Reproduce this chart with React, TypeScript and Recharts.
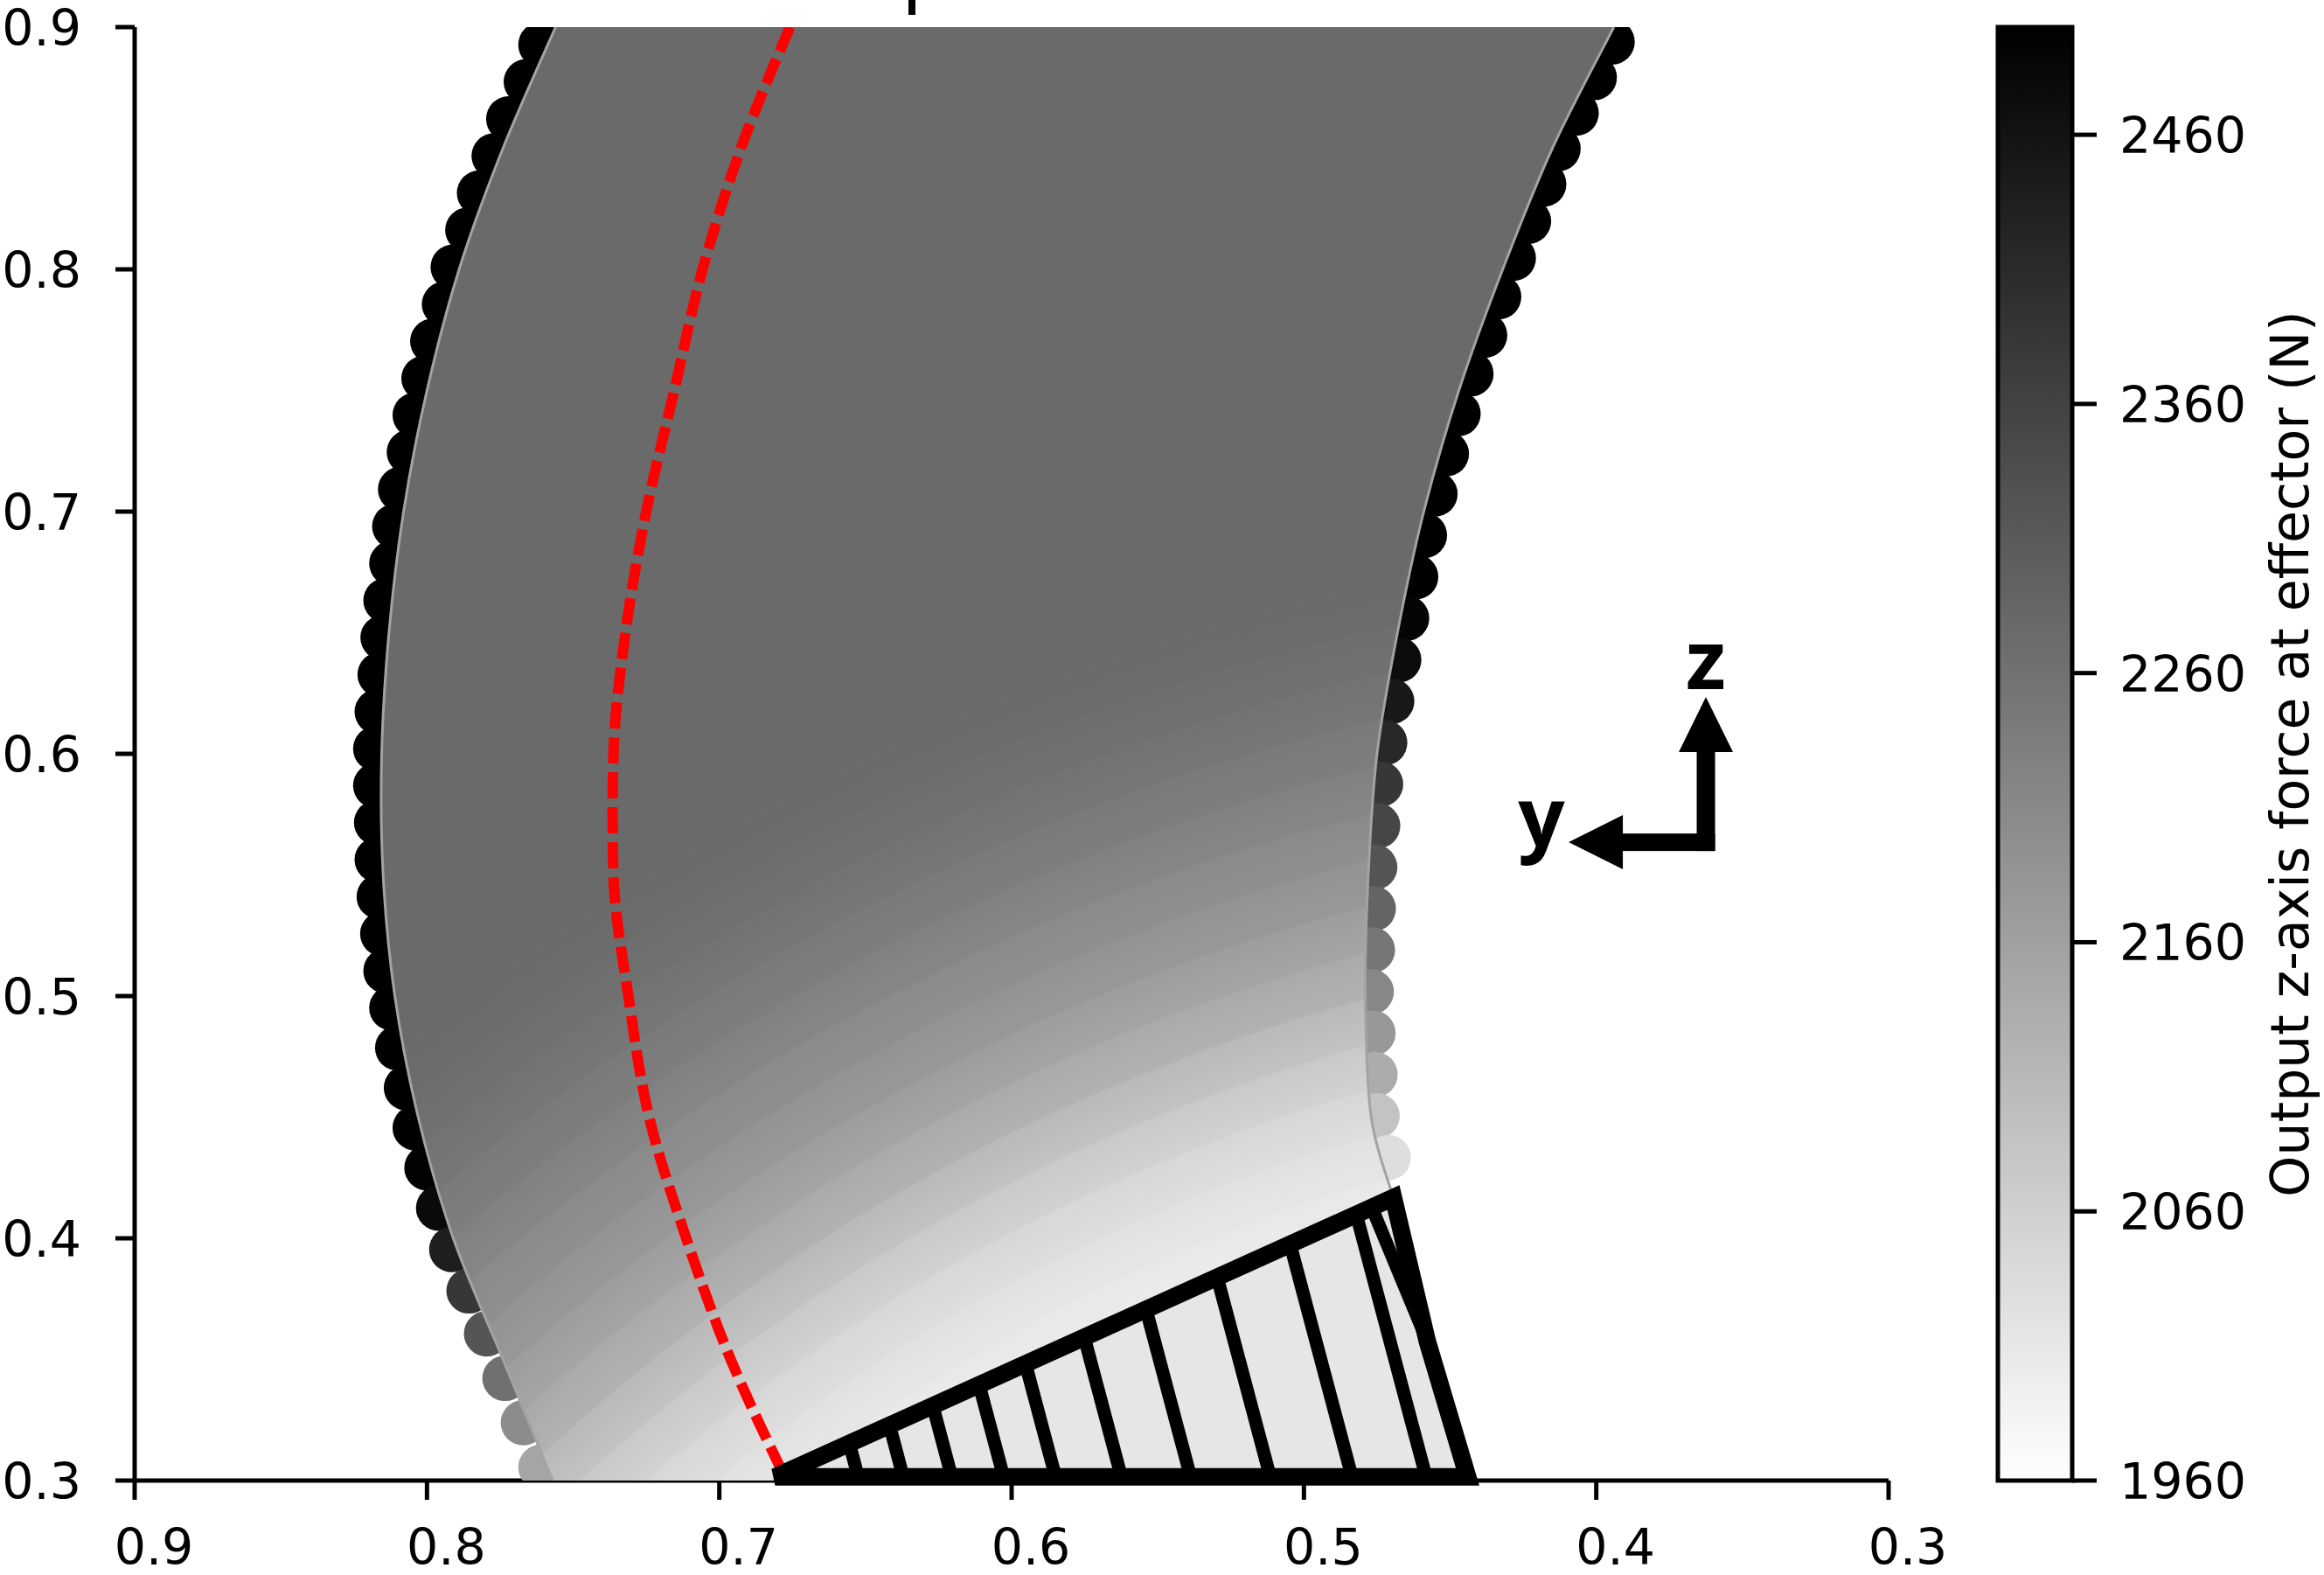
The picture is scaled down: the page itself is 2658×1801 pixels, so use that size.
import React from 'react';
import { ComposedChart, Scatter, XAxis, YAxis, ReferenceArea, ReferenceDot } from 'recharts';

const FONT = 'DejaVu Sans';
const F_MIN = 1960;
const F_MAX = 2500;
const INTERIOR_FORCE = 2275;

const axisTicks = [0.3, 0.4, 0.5, 0.6, 0.7, 0.8, 0.9];
const colorbarTicks = [1960, 2060, 2160, 2260, 2360, 2460];
const colorbarTitle = 'Output z-axis force at effector (N)';
const colorbarRange = [{ x: 0, f: F_MIN }, { x: 1, f: F_MAX }];

// workspace band boundaries (y, z)
const leftBoundary = [
  { y: 0.756, z: 0.9 }, { y: 0.774, z: 0.85 }, { y: 0.789, z: 0.8 }, { y: 0.8, z: 0.75 },
  { y: 0.808, z: 0.7 }, { y: 0.813, z: 0.65 }, { y: 0.8155, z: 0.6 }, { y: 0.815, z: 0.55 },
  { y: 0.811, z: 0.5 }, { y: 0.803, z: 0.45 }, { y: 0.791, z: 0.4 }, { y: 0.774, z: 0.35 },
  { y: 0.757, z: 0.3 },
];
const rightBoundary = [
  { y: 0.394, z: 0.9 }, { y: 0.415, z: 0.85 }, { y: 0.432, z: 0.8 }, { y: 0.447, z: 0.75 },
  { y: 0.459, z: 0.7 }, { y: 0.468, z: 0.65 }, { y: 0.475, z: 0.6 }, { y: 0.478, z: 0.55 },
  { y: 0.479, z: 0.5 }, { y: 0.477, z: 0.45 },
];
const bandBottom = [{ y: 0.681, z: 0.3 }, { y: 0.4694, z: 0.4168 }];

// boundary samples with output force (N)
const leftEdgePoints = [
  { y: 0.761, z: 0.8927, f: 2500 }, { y: 0.766, z: 0.8774, f: 2500 }, { y: 0.772, z: 0.8621, f: 2500 },
  { y: 0.777, z: 0.8468, f: 2500 }, { y: 0.782, z: 0.8315, f: 2500 }, { y: 0.786, z: 0.8162, f: 2500 },
  { y: 0.791, z: 0.8009, f: 2500 }, { y: 0.794, z: 0.7856, f: 2500 }, { y: 0.798, z: 0.7703, f: 2500 },
  { y: 0.801, z: 0.755, f: 2500 }, { y: 0.804, z: 0.7398, f: 2500 }, { y: 0.806, z: 0.7245, f: 2500 },
  { y: 0.809, z: 0.7092, f: 2500 }, { y: 0.811, z: 0.6939, f: 2500 }, { y: 0.812, z: 0.6786, f: 2500 },
  { y: 0.814, z: 0.6633, f: 2500 }, { y: 0.815, z: 0.648, f: 2500 }, { y: 0.816, z: 0.6327, f: 2500 },
  { y: 0.817, z: 0.6174, f: 2500 }, { y: 0.8175, z: 0.6021, f: 2500 }, { y: 0.8175, z: 0.5869, f: 2500 },
  { y: 0.8172, z: 0.5716, f: 2500 }, { y: 0.817, z: 0.5563, f: 2500 }, { y: 0.8163, z: 0.541, f: 2500 },
  { y: 0.8151, z: 0.5257, f: 2500 }, { y: 0.814, z: 0.5104, f: 2500 }, { y: 0.812, z: 0.4951, f: 2500 },
  { y: 0.81, z: 0.4786, f: 2500 }, { y: 0.807, z: 0.4621, f: 2500 }, { y: 0.804, z: 0.4456, f: 2498 },
  { y: 0.8, z: 0.4291, f: 2496 }, { y: 0.796, z: 0.4125, f: 2479 }, { y: 0.7915, z: 0.3954, f: 2436 },
  { y: 0.7856, z: 0.3783, f: 2384 }, { y: 0.7796, z: 0.3606, f: 2320 }, { y: 0.7733, z: 0.3422, f: 2263 },
  { y: 0.767, z: 0.3239, f: 2203 }, { y: 0.761, z: 0.3055, f: 2151 },
];
const rightEdgePoints = [
  { y: 0.3946, z: 0.8939, f: 2500 }, { y: 0.4007, z: 0.8792, f: 2500 }, { y: 0.4069, z: 0.8645, f: 2500 },
  { y: 0.4131, z: 0.8498, f: 2500 }, { y: 0.418, z: 0.8352, f: 2500 }, { y: 0.4232, z: 0.8199, f: 2500 },
  { y: 0.4284, z: 0.8046, f: 2500 }, { y: 0.4334, z: 0.7887, f: 2500 }, { y: 0.4382, z: 0.7728, f: 2500 },
  { y: 0.4429, z: 0.7569, f: 2500 }, { y: 0.4473, z: 0.7404, f: 2500 }, { y: 0.4513, z: 0.7239, f: 2500 },
  { y: 0.4552, z: 0.7073, f: 2500 }, { y: 0.4588, z: 0.6902, f: 2500 }, { y: 0.4618, z: 0.6731, f: 2500 },
  { y: 0.4649, z: 0.656, f: 2489 }, { y: 0.4676, z: 0.6388, f: 2475 }, { y: 0.47, z: 0.6217, f: 2447 },
  { y: 0.4724, z: 0.6046, f: 2415 }, { y: 0.4738, z: 0.5875, f: 2384 }, { y: 0.4748, z: 0.5703, f: 2352 },
  { y: 0.4758, z: 0.5532, f: 2320 }, { y: 0.4763, z: 0.5361, f: 2288 }, { y: 0.4766, z: 0.519, f: 2250 },
  { y: 0.477, z: 0.5018, f: 2214 }, { y: 0.4764, z: 0.4847, f: 2178 }, { y: 0.4757, z: 0.4676, f: 2136 },
  { y: 0.475, z: 0.4505, f: 2087 }, { y: 0.4712, z: 0.4333, f: 2030 },
];

// force contour rings in the lower part of the band (radius in z units, force inside ring)
const ringCentre = { y: 0.3005, z: -0.292 };
const ringRadius = [0.7278, 0.7462, 0.7645, 0.7829, 0.8012, 0.8196, 0.8379, 0.8563, 0.8746, 0.893, 0.9113, 0.9297, 0.948, 0.9664, 0.9847];
const ringForce = [1992, 2000, 2013, 2030, 2055, 2087, 2123, 2151, 2178, 2197, 2216, 2233, 2248, 2261, 2271];

// red dashed trajectory
const redPath = [
  { y: 0.6758, z: 0.9 }, { y: 0.6926, z: 0.85 }, { y: 0.7057, z: 0.8 }, { y: 0.7154, z: 0.75 },
  { y: 0.725, z: 0.7 }, { y: 0.7321, z: 0.65 }, { y: 0.7362, z: 0.6 }, { y: 0.7365, z: 0.575 },
  { y: 0.7362, z: 0.55 }, { y: 0.7311, z: 0.5 }, { y: 0.724, z: 0.45 }, { y: 0.7113, z: 0.4 },
  { y: 0.6961, z: 0.35 }, { y: 0.679, z: 0.305 },
];

// hatched footprint (L, apex, kink, R)
const footprint = [
  { y: 0.6809, z: 0.3015 }, { y: 0.4694, z: 0.4168 }, { y: 0.4578, z: 0.3575 }, { y: 0.444, z: 0.3015 },
];
const hatchFractions = [0.12, 0.185, 0.255, 0.33, 0.405, 0.5, 0.6, 0.715, 0.833, 0.94];
const apexBrace = 0.965;

const axesMarker = { y: 0.3625, z: 0.5635 };

const DOT_R = 26;

const gray = (f: number) => {
  const t = Math.min(1, Math.max(0, (f - F_MIN) / (F_MAX - F_MIN)));
  const g = Math.round(255 * (1 - t));
  return `rgb(${g},${g},${g})`;
};

type P = { x: number; y: number };
const smooth = (pts: P[], move = true) => {
  if (!pts.length) return '';
  let d = `${move ? 'M' : ' L'}${pts[0].x},${pts[0].y}`;
  for (let i = 0; i < pts.length - 1; i++) {
    const p0 = pts[i - 1] || pts[i];
    const p1 = pts[i];
    const p2 = pts[i + 1];
    const p3 = pts[i + 2] || p2;
    const c1x = p1.x + (p2.x - p0.x) / 6;
    const c1y = p1.y + (p2.y - p0.y) / 6;
    const c2x = p2.x - (p3.x - p1.x) / 6;
    const c2y = p2.y - (p3.y - p1.y) / 6;
    d += ` C${c1x},${c1y} ${c2x},${c2y} ${p2.x},${p2.y}`;
  }
  return d;
};

const bandData = [...leftBoundary, ...bandBottom, ...rightBoundary.slice().reverse()];
const NL = leftBoundary.length;
const NB = bandBottom.length;

const emptyShape = () => <g />;

const dotShape = (p: any) => <circle cx={p.cx} cy={p.cy} r={DOT_R} fill={gray(p.payload.f)} />;

const renderBand = (lp: any) => {
  const pts: P[] = lp.points || [];
  if (pts.length < bandData.length) return <g />;
  const last = bandData.length - 1;
  const sx = (pts[last].x - pts[0].x) / (bandData[last].y - bandData[0].y);
  const sz = (pts[NL - 1].y - pts[0].y) / (bandData[NL - 1].z - bandData[0].z);
  const cx = pts[0].x + sx * (ringCentre.y - bandData[0].y);
  const cy = pts[0].y + sz * (ringCentre.z - bandData[0].z);
  const rMax = ringRadius[ringRadius.length - 1] * 1.05;
  const rPx = rMax * Math.abs(sz);
  const stops: any[] = [];
  let prev = 0;
  ringRadius.forEach((r, i) => {
    const fNext = i + 1 < ringForce.length ? ringForce[i + 1] : INTERIOR_FORCE;
    const fIn = ringForce[i];
    const fOut = fIn + 0.6 * (fNext - fIn);
    stops.push(<stop key={`a${i}`} offset={prev} stopColor={gray(fIn)} />);
    stops.push(<stop key={`b${i}`} offset={r / rMax} stopColor={gray(fOut)} />);
    prev = r / rMax;
  });
  stops.push(<stop key="c0" offset={prev} stopColor={gray(INTERIOR_FORCE)} />);
  stops.push(<stop key="c1" offset={1} stopColor={gray(INTERIOR_FORCE)} />);
  const left = pts.slice(0, NL);
  const bottom = pts.slice(NL, NL + NB - 1);
  const right = pts.slice(NL + NB - 1);
  const d = smooth(left) + bottom.map((p) => ` L${p.x},${p.y}`).join('') + smooth(right, false) + ' Z';
  return (
    <g>
      <defs>
        <radialGradient id="bandRings" gradientUnits="userSpaceOnUse" cx={cx} cy={cy} r={rPx}>
          {stops}
        </radialGradient>
      </defs>
      <path d={d} fill="url(#bandRings)" stroke="none" />
      <path d={smooth(left)} fill="none" stroke="#a3a3a3" strokeWidth={3} />
      <path d={smooth(right)} fill="none" stroke="#a3a3a3" strokeWidth={3} />
    </g>
  );
};

const renderFootprint = (lp: any) => {
  const p: P[] = lp.points || [];
  if (p.length < 4) return <g />;
  const [L, A, K, R] = p;
  const lerp = (a: P, b: P, t: number) => ({ x: a.x + (b.x - a.x) * t, y: a.y + (b.y - a.y) * t });
  const poly = p.map((q) => `${q.x},${q.y}`).join(' ');
  const brace = lerp(L, A, apexBrace);
  return (
    <g>
      <polygon points={poly} fill="#e6e6e6" stroke="none" />
      {hatchFractions.map((u, i) => {
        const a = lerp(L, A, u);
        const b = lerp(L, R, u);
        return <line key={i} x1={a.x} y1={a.y} x2={b.x} y2={b.y} stroke="#000" strokeWidth={15} />;
      })}
      <line x1={brace.x} y1={brace.y} x2={K.x} y2={K.y} stroke="#000" strokeWidth={15} />
      <polygon points={poly} fill="none" stroke="#000" strokeWidth={20} strokeLinejoin="miter" />
    </g>
  );
};

const markerShape = (p: any) => {
  const cx = p.cx;
  const cy = p.cy;
  return (
    <g>
      <rect x={cx - 10.5} y={cy - 104} width={21} height={114} fill="#000" />
      <polygon points={`${cx},${cy - 166} ${cx - 31},${cy - 103} ${cx + 31},${cy - 103}`} fill="#000" />
      <rect x={cx - 96} y={cy - 10} width={106.5} height={20} fill="#000" />
      <polygon points={`${cx - 157},${cy} ${cx - 95},${cy - 31} ${cx - 95},${cy + 31}`} fill="#000" />
      <text x={cx} y={cy - 175} textAnchor="middle" fontFamily="Open Sans" fontWeight="bold" fontSize={94} fill="#000">z</text>
      <text x={cx - 188} y={cy + 5} textAnchor="middle" fontFamily="Open Sans" fontWeight="bold" fontSize={94} fill="#000">y</text>
    </g>
  );
};

const XTick = (props: any) => {
  const { x, y, payload } = props;
  return (
    <text x={x + 22} y={y} dy={72} textAnchor="middle" fontFamily={FONT} fontSize={57} fill="#000">
      {Number(payload.value).toFixed(1)}
    </text>
  );
};

const YTick = (props: any) => {
  const { x, y, payload } = props;
  return (
    <text x={x} y={y} dy={21} textAnchor="end" fontFamily={FONT} fontSize={57} fill="#000">
      {Number(payload.value).toFixed(1)}
    </text>
  );
};

const CbTick = (props: any) => {
  const { x, y, payload } = props;
  return (
    <text x={x} y={y} dy={21} textAnchor="start" fontFamily={FONT} fontSize={57} fill="#000">
      {payload.value}
    </text>
  );
};

const frameLine = { stroke: '#000', strokeWidth: 5 };

export default function App() {
  return (
    <div style={{ position: 'absolute', left: 0, top: 0, width: 2658, height: 1801, background: '#fff' }}>
      <div style={{ position: 'absolute', left: 0, top: 0 }}>
        <ComposedChart width={2658} height={1801} margin={{ top: 31, right: 498, bottom: 0, left: 0 }}>
          <XAxis
            type="number"
            dataKey="y"
            domain={[0.3, 0.9]}
            reversed
            allowDataOverflow
            ticks={axisTicks}
            interval={0}
            height={108}
            tickSize={22}
            tickMargin={2}
            axisLine={frameLine}
            tickLine={frameLine}
            tick={XTick}
          />
          <YAxis
            type="number"
            dataKey="z"
            domain={[0.3, 0.9]}
            allowDataOverflow
            ticks={axisTicks}
            interval={0}
            width={154}
            tickSize={22}
            tickMargin={39}
            axisLine={frameLine}
            tickLine={frameLine}
            tick={YTick}
          />
          <XAxis xAxisId="top" orientation="top" type="number" dataKey="y" domain={[0.3, 0.9]} reversed height={0} tick={false} tickLine={false} axisLine={frameLine} />
          <YAxis yAxisId="right" orientation="right" type="number" dataKey="z" domain={[0.3, 0.9]} width={0} tick={false} tickLine={false} axisLine={frameLine} />
          <XAxis xAxisId="t" type="number" dataKey="y" domain={[0.3, 0.9]} reversed hide />
          <YAxis yAxisId="t" type="number" dataKey="z" domain={[0.3, 0.9]} hide />

          <Scatter data={leftEdgePoints} shape={dotShape} isAnimationActive={false} />
          <Scatter data={rightEdgePoints} shape={dotShape} isAnimationActive={false} />
          <Scatter data={bandData} shape={emptyShape} line={renderBand} isAnimationActive={false} />
          <Scatter
            data={redPath}
            shape={emptyShape}
            line={{ stroke: '#ff0000', strokeWidth: 12, strokeDasharray: '30 10', fill: 'none' }}
            lineJointType="monotoneY"
            isAnimationActive={false}
          />
          <Scatter data={footprint} xAxisId="t" yAxisId="t" shape={emptyShape} line={renderFootprint} isAnimationActive={false} />
          <ReferenceDot x={axesMarker.y} y={axesMarker.z} r={1} shape={markerShape} />
        </ComposedChart>
      </div>

      <div style={{ position: 'absolute', left: 2200, top: 0 }}>
        <ComposedChart width={458} height={1801} margin={{ top: 31, right: 0, bottom: 108, left: 85 }}>
          <defs>
            <linearGradient id="cbGrad" x1="0" y1="0" x2="0" y2="1">
              <stop offset="0" stopColor={gray(F_MAX)} />
              <stop offset="1" stopColor={gray(F_MIN)} />
            </linearGradient>
          </defs>
          <XAxis type="number" dataKey="x" domain={[0, 1]} hide />
          <YAxis
            type="number"
            dataKey="f"
            orientation="right"
            domain={[F_MIN, F_MAX]}
            allowDataOverflow
            ticks={colorbarTicks}
            interval={0}
            width={288}
            tickSize={28}
            tickMargin={26}
            axisLine={false}
            tickLine={frameLine}
            tick={CbTick}
          />
          <Scatter data={colorbarRange} shape={emptyShape} isAnimationActive={false} />
          <ReferenceArea x1={0} x2={1} y1={F_MIN} y2={F_MAX} fill="url(#cbGrad)" fillOpacity={1} stroke="#000" strokeWidth={5} />
        </ComposedChart>
      </div>

      <svg width={2658} height={1801} style={{ position: 'absolute', left: 0, top: 0, pointerEvents: 'none' }}>
        <rect x={1039} y={0} width={8} height={17} fill="#000" />
        <text
          transform="translate(2619,862) rotate(-90)"
          textAnchor="middle"
          dominantBaseline="central"
          fontFamily={FONT}
          fontSize={60}
          fill="#000"
        >
          {colorbarTitle}
        </text>
      </svg>
    </div>
  );
}
